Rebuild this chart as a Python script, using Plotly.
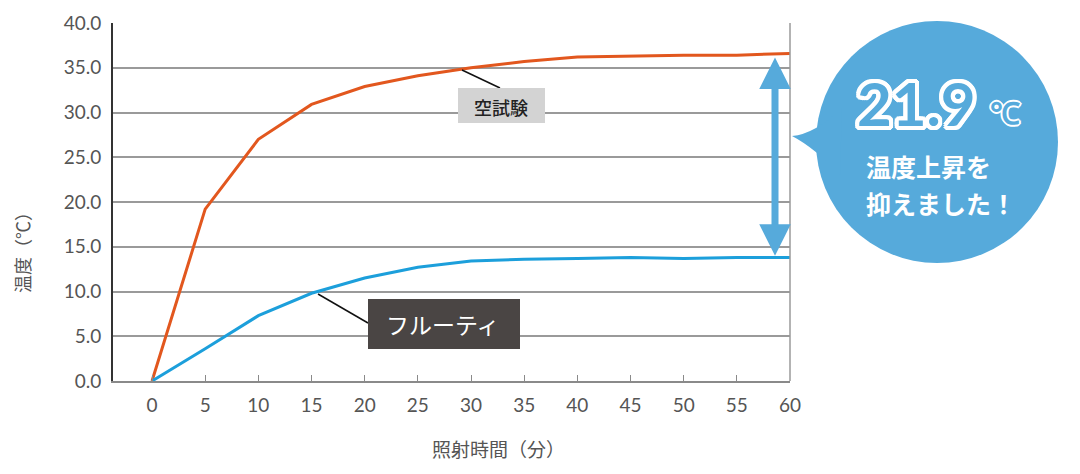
import plotly.graph_objects as go

# ---- data ----
minutes = [0, 5, 10, 15, 20, 25, 30, 35, 40, 45, 50, 55, 60]
blank_test = [0.0, 19.2, 27.0, 30.9, 32.9, 34.1, 35.0, 35.7, 36.2, 36.3, 36.4, 36.4, 36.6]
fruity = [0.0, 3.6, 7.3, 9.8, 11.5, 12.7, 13.4, 13.6, 13.7, 13.8, 13.7, 13.8, 13.8]
x_ticks = [0, 5, 10, 15, 20, 25, 30, 35, 40, 45, 50, 55, 60]
y_ticks = [0, 5, 10, 15, 20, 25, 30, 35, 40]
series_names = ["空試験", "フルーティ"]
diff_label = "21.9"

W, H = 1080, 474
L, R, T, B = 113, 790, 23, 381


def PX(x):
    return (x - L) / (R - L)


def PY(y):
    return (B - y) / (B - T)


ORANGE = "#E2571E"
BLUE = "#1C9FDB"
BUBBLE = "#56AADB"
TXT = "#555555"
NUM_FONT = "Lato"
JP_FONT = "Noto Sans CJK JP"

fig = go.Figure()
fig.add_trace(go.Scatter(x=minutes, y=blank_test, mode="lines", name=series_names[0],
                         line=dict(color=ORANGE, width=3), showlegend=False))
fig.add_trace(go.Scatter(x=minutes, y=fruity, mode="lines", name=series_names[1],
                         line=dict(color=BLUE, width=3), showlegend=False))

fig.update_layout(
    width=W, height=H,
    margin=dict(l=L, r=W - R, t=T, b=H - B, autoexpand=False),
    plot_bgcolor="white", paper_bgcolor="white",
    xaxis=dict(range=[-3.67, 60], tickvals=x_ticks, ticktext=[str(v) for v in x_ticks],
               showgrid=False, zeroline=False, showline=True, linecolor="#8a8a8a", linewidth=2,
               ticks="inside", ticklen=6, tickcolor="#8a8a8a", tickwidth=1,
               tickfont=dict(family=NUM_FONT, size=19, color=TXT), ticklabelstandoff=6),
    yaxis=dict(range=[0, 40], tickvals=y_ticks, tickformat=".1f",
               showgrid=True, gridcolor="#9a9a9a", gridwidth=1.5, zeroline=False,
               showline=True, linecolor="#333333", linewidth=2, ticks="",
               tickfont=dict(family=NUM_FONT, size=19, color=TXT), ticklabelstandoff=6),
)

shapes = []
# right border
shapes.append(dict(type="line", xref="paper", yref="paper", x0=1, x1=1, y0=0, y1=1,
                   line=dict(color="#9a9a9a", width=1.5)))
# label boxes and connectors
shapes.append(dict(type="line", xref="paper", yref="paper", x0=PX(462), y0=PY(70), x1=PX(500), y1=PY(88),
                   line=dict(color="#111111", width=1.5)))
shapes.append(dict(type="rect", xref="paper", yref="paper", x0=PX(458), x1=PX(545), y0=PY(123), y1=PY(88),
                   fillcolor="#D3D3D3", line=dict(width=0)))
shapes.append(dict(type="line", xref="paper", yref="paper", x0=PX(318), y0=PY(294), x1=PX(368), y1=PY(323),
                   line=dict(color="#111111", width=1.5)))
shapes.append(dict(type="rect", xref="paper", yref="paper", x0=PX(368), x1=PX(520), y0=PY(349), y1=PY(299),
                   fillcolor="#4A4544", line=dict(width=0)))
# speech bubble
cx, cy, rad = 937, 142, 121
shapes.append(dict(type="circle", xref="paper", yref="paper", x0=PX(cx - rad), x1=PX(cx + rad),
                   y0=PY(cy + rad), y1=PY(cy - rad), fillcolor=BUBBLE, line=dict(width=0)))
path = (f"M {PX(792)},{PY(136)} Q {PX(815)},{PY(134)} {PX(842)},{PY(108)} "
        f"L {PX(840)},{PY(175)} Q {PX(815)},{PY(148)} {PX(792)},{PY(136)} Z")
shapes.append(dict(type="path", xref="paper", yref="paper", path=path, fillcolor=BUBBLE, line=dict(width=0)))
fig.update_layout(shapes=shapes)

# double arrow
arr_x = (775 - 152) / (790 - 152) * 60
fig.add_annotation(x=arr_x, y=14.0, ax=arr_x, ay=36.3, xref="x", yref="y", axref="x", ayref="y",
                   text="", showarrow=True, arrowhead=2, startarrowhead=2, arrowside="end+start",
                   arrowwidth=7, arrowsize=0.9, startarrowsize=0.9, arrowcolor=BUBBLE)


def label(px, py, text, font, xanchor="center", textangle=0):
    fig.add_annotation(x=PX(px), y=PY(py), xref="paper", yref="paper", text=text,
                       xanchor=xanchor, yanchor="middle", showarrow=False,
                       textangle=textangle, font=font)


# labels
label(501.5, 107, series_names[0], dict(family=JP_FONT, size=18, color="#222222", weight=500))
label(443, 324, series_names[1], dict(family=JP_FONT, size=23, color="white"))

# axis titles
label(22, 248, "温度（℃）", dict(family=JP_FONT, size=18, color=TXT), textangle=-90)
label(498, 449, "照射時間（分）", dict(family=JP_FONT, size=19, color=TXT))

# bubble text
outline = ", ".join(f"{dx}px {dy}px 0 #ffffff" for dx, dy in
                    [(4, 0), (-4, 0), (0, 4), (0, -4), (3, 3), (-3, -3), (3, -3), (-3, 3),
                     (2, 4), (-2, 4), (2, -4), (-2, -4), (4, 2), (-4, 2), (4, -2), (-4, -2)])
outline_small = ", ".join(f"{dx}px {dy}px 0 #ffffff" for dx, dy in
                          [(2, 0), (-2, 0), (0, 2), (0, -2), (1, 1), (-1, -1), (1, -1), (-1, 1)])
label(916, 103, "<b>" + diff_label + "</b>",
      dict(family=NUM_FONT, size=60, color=BUBBLE, weight=900, shadow=outline))
label(1005, 112, "<b>℃</b>", dict(family=NUM_FONT, size=30, color=BUBBLE, shadow=outline_small))
label(864, 166, "<b>温度上昇を</b>", dict(family=JP_FONT, size=25, color="white"), xanchor="left")
label(864, 203, "<b>抑えました！</b>", dict(family=JP_FONT, size=25, color="white"), xanchor="left")

fig.write_html("out.html")
